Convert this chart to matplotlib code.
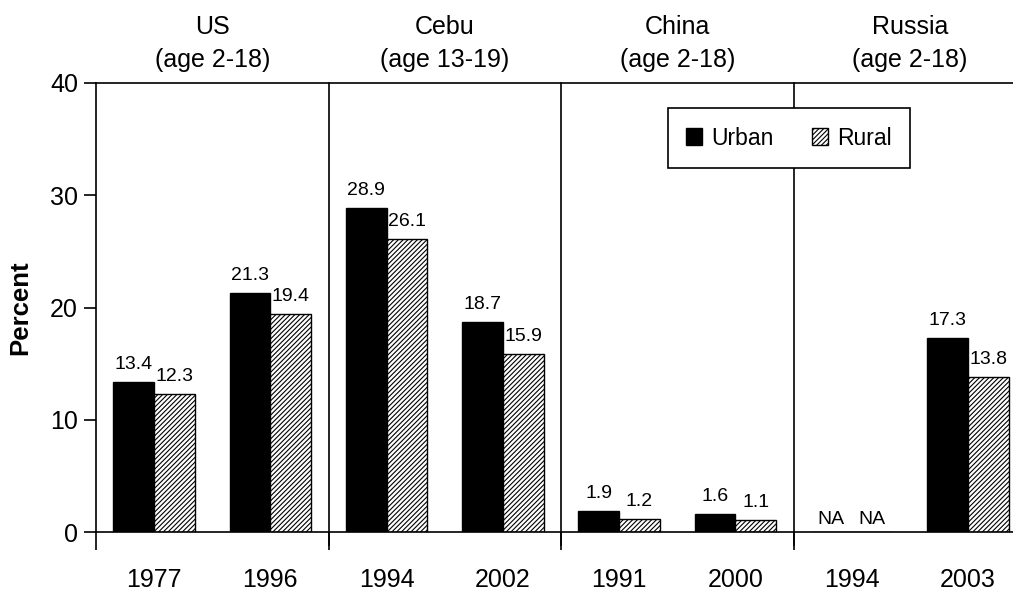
import numpy as np
import matplotlib.pyplot as plt

plt.rcParams['font.family'] = ['Liberation Sans', 'DejaVu Sans']
plt.rcParams['hatch.linewidth'] = 0.8

groups = ['US\n(age 2-18)', 'Cebu\n(age 13-19)', 'China\n(age 2-18)', 'Russia\n(age 2-18)']
years = ['1977', '1996', '1994', '2002', '1991', '2000', '1994', '2003']
urban = [13.4, 21.3, 28.9, 18.7, 1.9, 1.6, None, 17.3]
rural = [12.3, 19.4, 26.1, 15.9, 1.2, 1.1, None, 13.8]

fig = plt.figure(figsize=(10.13, 5.94), dpi=100)
ax = fig.add_axes([96 / 1013, 62 / 594, 930 / 1013, 449 / 594])

x = np.arange(len(years)) + 0.5
w = 0.35
uvals = [v if v is not None else 0 for v in urban]
rvals = [v if v is not None else 0 for v in rural]
ax.bar(x - w / 2, uvals, w, color='black', edgecolor='black', linewidth=1, label='Urban')
ax.bar(x + w / 2, rvals, w, color='white', edgecolor='black', linewidth=1,
       hatch='///////', label='Rural')

for xs, vals in [(x - w / 2, urban), (x + w / 2, rural)]:
    for xi, v in zip(xs, vals):
        if v is None:
            ax.text(xi, 0.4, 'NA', ha='center', va='bottom', fontsize=14)
        else:
            ax.text(xi, v + 0.8, f'{v:.1f}', ha='center', va='bottom', fontsize=14)

for sx in [2, 4, 6]:
    ax.plot([sx, sx], [-1.2, 40], color='black', lw=1.2, clip_on=False, zorder=1)

ax.set_xlim(0, 8)
ax.set_ylim(0, 40)
ax.set_yticks([0, 10, 20, 30, 40])
ax.tick_params(axis='y', labelsize=18, length=9, width=1.2, direction='out', pad=4)
ax.set_xticks([0, 2, 4, 6, 8])
ax.set_xticklabels([])
ax.tick_params(axis='x', length=13, width=1.2, direction='out')
for xi, lab in zip(x, years):
    ax.text(xi, -3.2, lab, ha='center', va='top', fontsize=18)
for i, g in enumerate(groups):
    ax.text(2 * i + 1, 41.0, g, ha='center', va='bottom', fontsize=18, linespacing=1.45)

for s in ['left', 'bottom', 'top']:
    ax.spines[s].set_linewidth(1.2)
ax.spines['right'].set_visible(False)

ax.set_ylabel('Percent', fontsize=18.5, fontweight='bold', labelpad=13)

leg = ax.legend(loc='lower left', bbox_to_anchor=(0.615, 0.811, 0.26, 0.133), mode='expand',
                ncol=2, fontsize=16.5, frameon=True, fancybox=False, edgecolor='black',
                framealpha=1, handlelength=0.7, handleheight=0.7, handletextpad=0.4,
                borderpad=0.8, borderaxespad=0)
leg.get_frame().set_linewidth(1.2)
leg.set_zorder(5)

fig.savefig('out.png', dpi=100)
